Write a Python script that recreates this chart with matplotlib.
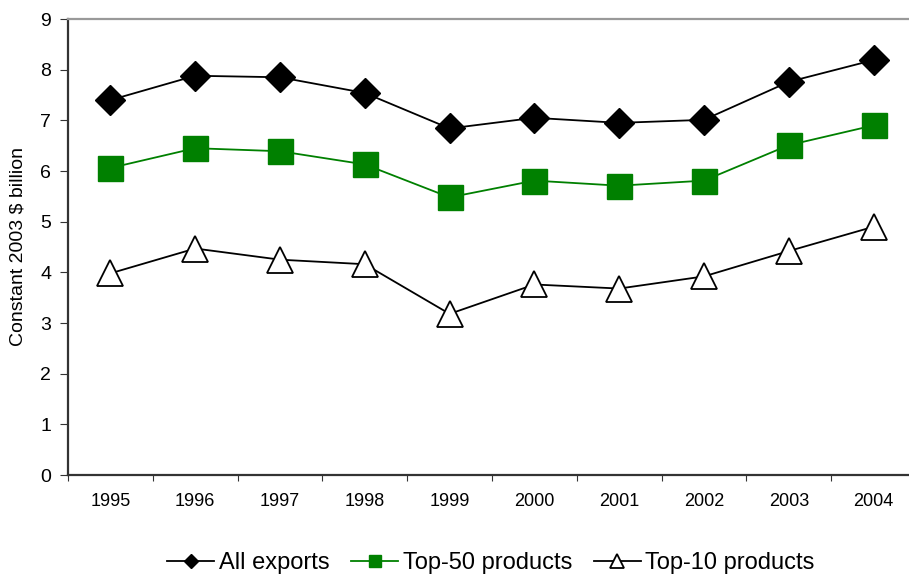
import matplotlib.pyplot as plt
import numpy as np

plt.rcParams['font.family'] = ['Liberation Sans', 'DejaVu Sans']

years = ['1995', '1996', '1997', '1998', '1999', '2000', '2001', '2002', '2003', '2004']
all_exports = [7.40, 7.88, 7.85, 7.54, 6.84, 7.05, 6.95, 7.01, 7.76, 8.19]
top50 = [6.06, 6.45, 6.39, 6.13, 5.48, 5.81, 5.71, 5.81, 6.51, 6.90]
top10 = [3.98, 4.47, 4.25, 4.16, 3.18, 3.76, 3.68, 3.92, 4.42, 4.90]

x = np.arange(len(years))

fig = plt.figure(figsize=(9.09, 5.75), dpi=100)
ax = fig.add_axes([68 / 909, 100 / 575, 848 / 909, 456 / 575])

ax.plot(x, all_exports, color='black', lw=1.3, marker='D', ms=15,
        mfc='black', mec='black', label='All exports')
ax.plot(x, top50, color='#008000', lw=1.3, marker='s', ms=18,
        mfc='#008000', mec='#008000', label='Top-50 products')
ax.plot(x, top10, color='black', lw=1.3, marker='^', ms=19,
        mfc='white', mec='black', mew=1.3, label='Top-10 products')

ax.set_xlim(-0.5, len(years) - 0.5)
ax.set_ylim(0, 9)
ax.set_yticks(range(0, 10))
ax.set_xticks(np.arange(len(years) + 1) - 0.5)
ax.set_xticklabels([])
ax.set_xticks(x, minor=True)
ax.set_xticklabels(years, minor=True)
ax.tick_params(axis='x', which='minor', length=0, pad=13, labelsize=13)
ax.tick_params(axis='x', which='major', direction='out', length=4, color='#333333')
ax.tick_params(axis='y', direction='out', length=6, labelsize=14, color='#333333', pad=6)

ax.spines['right'].set_visible(False)
ax.spines['top'].set_color('#999999')
ax.spines['top'].set_linewidth(1.6)
for s in ['left', 'bottom']:
    ax.spines[s].set_color('#333333')
    ax.spines[s].set_linewidth(1.6)

ax.set_ylabel('Constant 2003 $ billion', fontsize=14, labelpad=10)

fig.legend(loc='center', bbox_to_anchor=(491 / 909, 1 - 563 / 575), ncol=3, frameon=False,
           fontsize=17, markerscale=0.5, handlelength=2.0, handletextpad=0.2,
           columnspacing=0.9, borderaxespad=0)

fig.savefig('out.png', dpi=100)
